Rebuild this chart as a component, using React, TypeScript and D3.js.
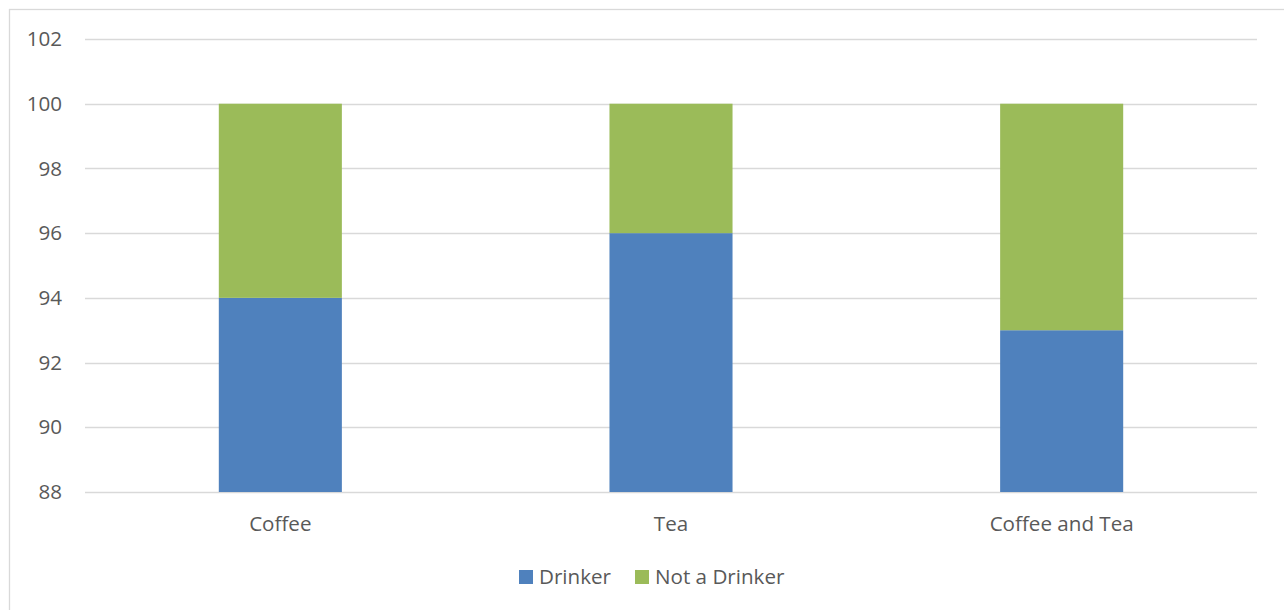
import React from "react";
import * as d3 from "d3";

const categories = ["Coffee", "Tea", "Coffee and Tea"];
const drinker = [94, 96, 93];
const notDrinker = [6, 4, 7];
const seriesNames = ["Drinker", "Not a Drinker"];
const yTicks = [88, 90, 92, 94, 96, 98, 100, 102];

const W = 1284;
const H = 610;
const colors = ["#4F81BD", "#9BBB59"];
const FONT = "'Open Sans', 'Liberation Sans', sans-serif";
const TEXT = "#595959";
const FS = 20.6;

export default function App() {
  const x = d3.scaleBand().domain(categories).range([85, 1257]).paddingInner(0.685).paddingOuter(0.3425);
  const y = d3.scaleLinear().domain([88, 102]).range([492, 39]);

  const rows = categories.map((c, i) => ({ cat: c, Drinker: drinker[i], "Not a Drinker": notDrinker[i] }));
  const stacked = d3.stack<any>().keys(seriesNames)(rows);

  return (
    <svg width={W} height={H} style={{ position: "absolute", left: 0, top: 0 }} fontFamily={FONT}>
      <rect x={0} y={0} width={W} height={H} fill="#fff" />
      <rect x={9.5} y={9.5} width={W + 20} height={H + 20} fill="none" stroke="#D9D9D9" strokeWidth={1.3} />
      {yTicks.map((t) => (
        <g key={t}>
          <line x1={85} x2={1257} y1={Math.round(y(t)) + 0.5} y2={Math.round(y(t)) + 0.5} stroke="#D9D9D9" strokeWidth={1.3} />
          <text x={62} y={y(t)} dy="0.35em" textAnchor="end" fontSize={FS} fill={TEXT}>
            {t}
          </text>
        </g>
      ))}
      {stacked.map((s, si) => (
        <g key={s.key} fill={colors[si]}>
          {s.map((d: any, i: number) => (
            <rect
              key={i}
              x={x(categories[i])!}
              width={x.bandwidth()}
              y={y(d[1])}
              height={y(d[0] < 88 ? 88 : d[0]) - y(d[1])}
            />
          ))}
        </g>
      ))}
      {categories.map((c) => (
        <text key={c} x={x(c)! + x.bandwidth() / 2} y={531} textAnchor="middle" fontSize={FS} fill={TEXT}>
          {c}
        </text>
      ))}
      <g>
        <rect x={519} y={570} width={14} height={14} fill={colors[0]} />
        <text x={539} y={584} fontSize={FS} fill={TEXT}>
          {seriesNames[0]}
        </text>
        <rect x={635} y={570} width={14} height={14} fill={colors[1]} />
        <text x={655} y={584} fontSize={FS} fill={TEXT}>
          {seriesNames[1]}
        </text>
      </g>
    </svg>
  );
}
